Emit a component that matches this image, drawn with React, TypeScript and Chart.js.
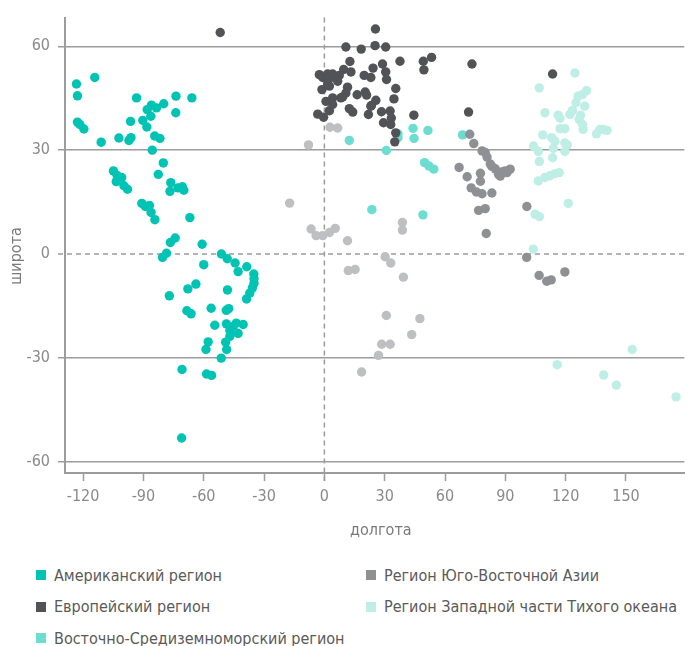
import React, { useEffect, useRef } from "react";
import { Chart, registerables } from "chart.js";

Chart.register(...registerables);

// ---------- data (longitude, latitude) ----------
const americas: [number, number][] = [
  [-123.3, 49.1], [-114.2, 51.0], [-122.8, 45.7], [-122.8, 38.1], [-121.6, 37.4], [-119.6, 36.1],
  [-111.0, 32.3], [-93.4, 45.1], [-96.4, 38.3], [-102.2, 33.5], [-97.2, 32.8], [-96.2, 33.6],
  [-90.3, 38.6], [-88.3, 36.7], [-88.1, 41.7], [-86.0, 43.0], [-83.5, 42.2], [-79.9, 43.4],
  [-86.3, 39.8], [-73.8, 45.6], [-65.9, 45.1], [-73.9, 40.8], [-84.4, 34.1], [-81.8, 33.4],
  [-85.6, 30.0], [-80.1, 26.3], [-82.6, 23.0], [-104.9, 24.0], [-103.1, 22.7], [-100.8, 22.1],
  [-103.5, 20.9], [-99.7, 19.7], [-97.9, 18.7], [-76.4, 20.6], [-76.8, 18.1], [-72.8, 19.1],
  [-70.6, 19.4], [-69.9, 18.4], [-90.8, 14.6], [-89.0, 13.7], [-87.0, 14.0], [-86.2, 12.0],
  [-84.3, 9.9], [-66.9, 10.5], [-76.6, 3.3], [-74.2, 4.6], [-60.8, 2.8], [-80.5, -1.0],
  [-78.5, 0.2], [-51.2, 0.0], [-48.3, -1.4], [-44.4, -2.6], [-38.6, -3.7], [-42.9, -5.1],
  [-60.0, -3.1], [-35.1, -5.8], [-35.0, -7.2], [-35.0, -8.5], [-35.8, -9.8], [-37.1, -11.3],
  [-38.7, -13.0], [-48.2, -10.4], [-63.9, -8.7], [-67.9, -10.1], [-77.1, -12.1], [-68.4, -16.4],
  [-66.3, -17.3], [-56.3, -15.7], [-48.8, -16.3], [-47.6, -15.8], [-54.5, -20.6], [-48.7, -20.2],
  [-46.2, -21.1], [-43.8, -20.0], [-40.4, -20.4], [-47.0, -22.1], [-42.9, -23.0], [-45.4, -21.6],
  [-47.0, -23.8], [-57.8, -25.4], [-58.9, -27.6], [-49.1, -25.5], [-48.6, -27.6], [-51.3, -30.1],
  [-70.8, -33.4], [-58.6, -34.7], [-56.1, -35.1], [-71.0, -53.2],
];

const europe: [number, number][] = [
  [-51.8, 64.0], [25.4, 65.0], [10.7, 59.8], [18.3, 59.2], [25.2, 60.2], [30.5, 59.8],
  [12.7, 55.6], [37.6, 55.7], [49.2, 55.7], [53.3, 56.8], [49.5, 53.2], [73.4, 54.9],
  [71.7, 41.0], [44.5, 40.1], [113.5, 52.0], [9.6, 53.3], [13.2, 52.6], [19.8, 51.6],
  [23.1, 51.0], [24.2, 53.7], [28.9, 54.9], [30.5, 52.6], [30.9, 50.4], [-2.5, 51.8],
  [-0.8, 51.0], [1.6, 52.0], [4.1, 52.0], [2.5, 50.7], [5.8, 51.3], [7.4, 51.6],
  [6.6, 49.9], [-1.2, 47.5], [2.5, 48.5], [1.6, 49.1], [11.5, 48.2], [10.7, 46.5],
  [16.3, 46.0], [20.3, 46.8], [21.0, 45.9], [25.6, 44.4], [23.4, 42.9], [35.5, 47.8],
  [34.6, 44.8], [4.1, 45.1], [8.2, 45.1], [9.1, 45.4], [0.8, 44.1], [-3.3, 40.4],
  [-0.4, 39.5], [2.5, 41.4], [4.1, 43.2], [12.4, 42.0], [14.1, 41.0], [23.1, 42.7],
  [21.9, 40.3], [28.4, 41.1], [32.7, 41.3], [33.3, 39.3], [29.4, 37.9], [33.0, 37.4],
  [35.5, 35.0], [35.0, 32.4],
];

const easternMediterranean: [number, number][] = [
  [12.4, 32.8], [30.8, 29.9], [36.6, 34.7], [36.6, 33.6], [44.1, 36.3], [44.6, 33.4],
  [51.5, 35.7], [49.8, 26.4], [52.0, 25.4], [54.4, 24.5], [23.6, 12.8], [49.0, 11.3],
  [68.7, 34.4],
];

const southEastAsia: [number, number][] = [
  [72.3, 34.6], [74.3, 31.9], [78.4, 29.8], [80.0, 29.3], [80.9, 28.0], [82.5, 26.0],
  [83.3, 25.3], [85.0, 24.6], [86.6, 23.0], [88.3, 23.7], [89.9, 24.0], [90.8, 23.5],
  [92.4, 24.5], [87.5, 22.5], [67.0, 25.0], [71.0, 22.3], [77.6, 23.3], [77.6, 21.0],
  [73.0, 19.1], [75.6, 17.9], [78.4, 17.4], [83.3, 17.6], [76.7, 12.6], [80.0, 13.1],
  [80.5, 5.9], [100.7, 13.7], [100.6, -1.0], [106.8, -6.2], [110.6, -7.9], [112.8, -7.5],
  [119.6, -5.2],
];

const westernPacific: [number, number][] = [
  [124.6, 52.3], [106.9, 48.0], [130.4, 47.2], [128.4, 46.1], [126.2, 45.6], [125.1, 43.7],
  [123.4, 41.5], [122.1, 40.3], [129.5, 42.7], [127.4, 40.1], [126.7, 38.9], [128.4, 37.4],
  [128.7, 36.0], [109.7, 40.8], [116.3, 40.1], [117.2, 39.2], [117.2, 36.2], [119.6, 36.2],
  [108.6, 34.4], [113.0, 33.6], [114.7, 32.6], [113.9, 30.5], [119.6, 32.1], [120.8, 31.5],
  [119.6, 29.6], [104.0, 31.2], [106.4, 29.6], [106.9, 26.7], [113.5, 27.8], [106.4, 21.1],
  [109.7, 22.1], [112.2, 22.6], [114.7, 23.2], [116.8, 23.5], [121.3, 14.6], [104.8, 11.5],
  [106.9, 10.8], [137.0, 36.0], [138.6, 36.0], [140.6, 35.7], [135.3, 34.7], [103.9, 1.4],
  [153.1, -27.6], [115.8, -32.0], [138.9, -35.0], [145.2, -37.9], [174.9, -41.3],
];

const africa: [number, number][] = [
  [-7.9, 31.5], [2.8, 36.6], [6.6, 36.4], [-17.3, 14.7], [-6.6, 7.2], [-4.1, 5.3],
  [-0.8, 5.3], [2.5, 6.2], [5.4, 7.4], [11.5, 3.8], [38.8, 9.1], [38.8, 6.9],
  [30.2, -0.8], [33.0, -2.6], [11.9, -4.8], [15.3, -4.5], [39.3, -6.7], [30.8, -17.8],
  [47.5, -18.7], [43.4, -23.3], [28.5, -26.1], [32.7, -26.1], [26.9, -29.3], [18.5, -34.1],
];

const regionNames = [
  "Американский регион",
  "Европейский регион",
  "Восточно-Средиземноморский регион",
  "Регион Юго-Восточной Азии",
  "Регион Западной части Тихого океана",
];
const regionColors = ["#00C4B3", "#515356", "#6CDDD1", "#8F9094", "#BFEEE7"];
const africaColor = "#BEBFC3";

const xAxisTitle = "долгота";
const yAxisTitle = "широта";
const xRange = [-129, 179];
const yRange = [-63.3, 68.3];
const tickStep = 30;

const FONT = "'Liberation Sans Narrow', 'DejaVu Sans Condensed', 'Roboto', sans-serif";
const GRID = "#9c9c9c";
const TICK_TEXT = "#8a8a8a";

const toPoints = (arr: [number, number][]) => arr.map(([x, y]) => ({ x, y }));

const zeroLines = {
  id: "zeroLines",
  beforeDatasetsDraw(chart: any) {
    const { ctx, chartArea, scales } = chart;
    const px = scales.x.getPixelForValue(0);
    const py = scales.y.getPixelForValue(0);
    ctx.save();
    ctx.strokeStyle = GRID;
    ctx.lineWidth = 1.5;
    ctx.setLineDash([5, 4]);
    ctx.beginPath();
    ctx.moveTo(px, chartArea.top);
    ctx.lineTo(px, chartArea.bottom + 8);
    ctx.stroke();
    ctx.beginPath();
    ctx.moveTo(chartArea.left - 7, py);
    ctx.lineTo(chartArea.right, py);
    ctx.stroke();
    ctx.restore();
  },
};

const axisTitles = {
  id: "axisTitles",
  afterDraw(chart: any) {
    const { ctx, chartArea } = chart;
    ctx.save();
    ctx.fillStyle = "#7a7a7a";
    ctx.font = `16px ${FONT}`;
    ctx.textAlign = "center";
    ctx.textBaseline = "middle";
    ctx.fillText(xAxisTitle, chartArea.left + (chartArea.right - chartArea.left) * 0.51, 531);
    ctx.translate(17, 256);
    ctx.rotate(-Math.PI / 2);
    ctx.fillText(yAxisTitle, 0, 0);
    ctx.restore();
  },
};

export default function App() {
  const ref = useRef<HTMLCanvasElement | null>(null);

  useEffect(() => {
    document.body.style.margin = "0";
    const canvas = ref.current;
    if (!canvas) return;
    const series = [
      { data: southEastAsia, color: regionColors[3] },
      { data: europe, color: regionColors[1] },
      { data: americas, color: regionColors[0] },
      { data: easternMediterranean, color: regionColors[2] },
      { data: westernPacific, color: regionColors[4] },
      { data: africa, color: africaColor },
    ];
    const chart = new Chart(canvas, {
      type: "scatter",
      data: {
        datasets: series.map((s) => ({
          data: toPoints(s.data),
          backgroundColor: s.color,
          borderWidth: 0,
          pointRadius: 4.7,
          pointHoverRadius: 4.7,
        })),
      },
      options: {
        animation: false,
        responsive: false,
        maintainAspectRatio: false,
        layout: { padding: { top: 16, right: 2, left: 0, bottom: 0 } },
        plugins: { legend: { display: false }, tooltip: { enabled: false } },
        scales: {
          x: {
            type: "linear",
            min: xRange[0],
            max: xRange[1],
            afterFit: (s: any) => { s.height = 77; },
            ticks: {
              stepSize: tickStep,
              includeBounds: false,
              color: TICK_TEXT,
              padding: 6,
              font: { family: FONT, size: 16 },
              maxRotation: 0,
            },
            grid: {
              drawOnChartArea: false,
              drawTicks: true,
              tickLength: 8,
              tickColor: GRID,
              tickWidth: 1.5,
            },
            border: { display: true, color: GRID, width: 2 },
          },
          y: {
            type: "linear",
            min: yRange[0],
            max: yRange[1],
            afterFit: (s: any) => { s.width = 65; },
            ticks: {
              stepSize: tickStep,
              includeBounds: false,
              color: TICK_TEXT,
              padding: 8,
              font: { family: FONT, size: 16 },
            },
            grid: {
              color: (c: any) => (c.tick && c.tick.value === 0 ? "rgba(0,0,0,0)" : GRID),
              tickColor: (c: any) => (c.tick && c.tick.value === 0 ? "rgba(0,0,0,0)" : GRID),
              lineWidth: 1.5,
              tickLength: 7,
            },
            border: { display: true, color: GRID, width: 2 },
          },
        },
      },
      plugins: [zeroLines, axisTitles],
    } as any);
    return () => chart.destroy();
  }, []);

  const legendPos = [
    { left: 36, top: 575 },
    { left: 36, top: 606.5 },
    { left: 36, top: 638 },
    { left: 366, top: 575 },
    { left: 366, top: 606.5 },
  ];

  return (
    <div style={{ position: "relative", width: 689, height: 646, overflow: "hidden" }}>
      <canvas ref={ref} width={689} height={550} style={{ position: "absolute", left: 0, top: 0 }} />
      {regionNames.map((name, i) => (
        <div
          key={name}
          style={{
            position: "absolute",
            left: legendPos[i].left,
            top: legendPos[i].top - 11,
            height: 22,
            display: "flex",
            alignItems: "center",
            whiteSpace: "nowrap",
            fontFamily: FONT,
            fontSize: 16,
            color: "#5a5a5a",
          }}
        >
          <span style={{ display: "inline-block", width: 10, height: 10, background: regionColors[i], marginRight: 8 }} />
          <span>{name}</span>
        </div>
      ))}
    </div>
  );
}
